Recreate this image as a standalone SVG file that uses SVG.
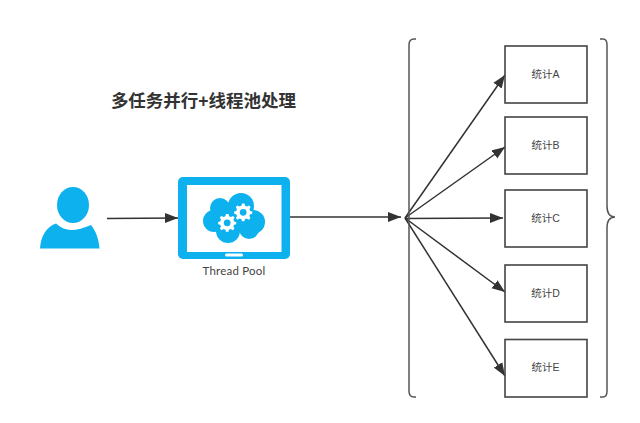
<svg xmlns="http://www.w3.org/2000/svg" width="640" height="423" viewBox="0 0 640 423">
<style>
.box{fill:#fff;stroke:#444;stroke-width:1.6}
.lbl{font-family:"Liberation Sans","Noto Sans CJK SC",sans-serif;font-size:10.500px;fill:#444;text-anchor:middle}
.cn{fill:#0cb1ee}
.conn{fill:none;stroke:#333;stroke-width:1.500}
.brace{fill:none;stroke:#555;stroke-width:1.500}
</style>
<defs>
<marker id="arr" markerUnits="userSpaceOnUse" markerWidth="14" markerHeight="11" refX="13" refY="5.500" orient="auto"><path d="M0 0.500L13 5.500L0 10.500z" fill="#333"/></marker>
<g id="gear"><path d="M-1.200-9.500L1.800-9.500L2.400-6.800L4.600-5.800L7-7.200L9-5.200L7.600-2.900L8.400-0.700L10.900 0L10.900 2.600L8.400 3.200L7.400 5.400L8.800 7.700L6.800 9.700L4.400 8.200L2.200 9.100L1.700 11.500L-1.300 11.500L-1.800 9.100L-4 8.200L-6.400 9.700L-8.400 7.700L-7 5.400L-8 3.200L-10.400 2.600L-10.400 0L-8 -0.700L-7.100-2.900L-8.500-5.200L-6.500-7.200L-4.100-5.800L-1.900-6.800z" fill="#fff"/><circle cx="0.200" cy="1" r="4" class="cn"/></g>
</defs>
<rect width="640" height="423" fill="#fff"/>
<g id="title"><text x="203.500" y="107" text-anchor="middle" font-family="'Liberation Sans','Noto Sans CJK SC',sans-serif" font-size="17.500" font-weight="700" fill="#333">多任务并行+线程池处理</text></g>
<g id="connectors">
<path class="conn" d="M107 218.500L178 218" marker-end="url(#arr)"/>
<path class="conn" d="M290 217H401" marker-end="url(#arr)"/>
<path class="conn" d="M405 218L505 75" marker-end="url(#arr)"/>
<path class="conn" d="M405 218L505 147" marker-end="url(#arr)"/>
<path class="conn" d="M405 218.500L503 218" marker-end="url(#arr)"/>
<path class="conn" d="M405 218L505 292" marker-end="url(#arr)"/>
<path class="conn" d="M405 218L505 376" marker-end="url(#arr)"/>
</g>
<g id="user">
<ellipse class="cn" cx="73" cy="205" rx="16" ry="18"/>
<path class="cn" d="M40 248.500C41 236 46 227 56 223.500C61 228 66 230 71 230C77 230 84 228 91 225C96 231 99 240 99.500 248.500z"/>
</g>
<g id="pool">
<rect class="cn" x="178" y="177" width="112" height="82" rx="5"/>
<rect x="187" y="185" width="94.500" height="67" fill="#fff"/>
<rect x="225" y="253.500" width="18" height="3" rx="1.500" fill="#fff"/>
<g class="cn"><circle cx="220" cy="208" r="10"/><circle cx="241" cy="206" r="13"/><circle cx="253" cy="222" r="12"/><circle cx="214" cy="221" r="11"/><circle cx="228" cy="231" r="12"/><circle cx="249" cy="229" r="10"/><circle cx="232" cy="218" r="16"/></g>
<use href="#gear" transform="translate(227 222) scale(.85)"/>
<use href="#gear" transform="translate(243 211.500) scale(.85)"/>
<text x="234" y="275" font-family="'Lato','Liberation Sans',sans-serif" font-size="11.500" fill="#444" text-anchor="middle" letter-spacing=".2">Thread Pool</text>
</g>
<g id="bracket-left"><path class="brace" d="M416 39H414Q409 39 409 45V391Q409 397 414 397H416"/></g>
<g id="bracket-right"><path class="brace" d="M600 39H603Q607 39 607 45V206Q607 217 615 217Q607 217 607 228V391Q607 397 603 397H600"/></g>
<g id="stat-a"><rect class="box" x="505" y="46" width="82" height="57"/><text class="lbl" x="545.500" y="78">统计A</text></g>
<g id="stat-b"><rect class="box" x="505" y="117" width="82" height="57"/><text class="lbl" x="545.500" y="149">统计B</text></g>
<g id="stat-c"><rect class="box" x="505" y="190" width="82" height="57"/><text class="lbl" x="545.500" y="222">统计C</text></g>
<g id="stat-d"><rect class="box" x="505" y="265" width="82" height="57"/><text class="lbl" x="545.500" y="297">统计D</text></g>
<g id="stat-e"><rect class="box" x="505" y="339.500" width="82" height="57.500"/><text class="lbl" x="545.500" y="371">统计E</text></g>
</svg>
